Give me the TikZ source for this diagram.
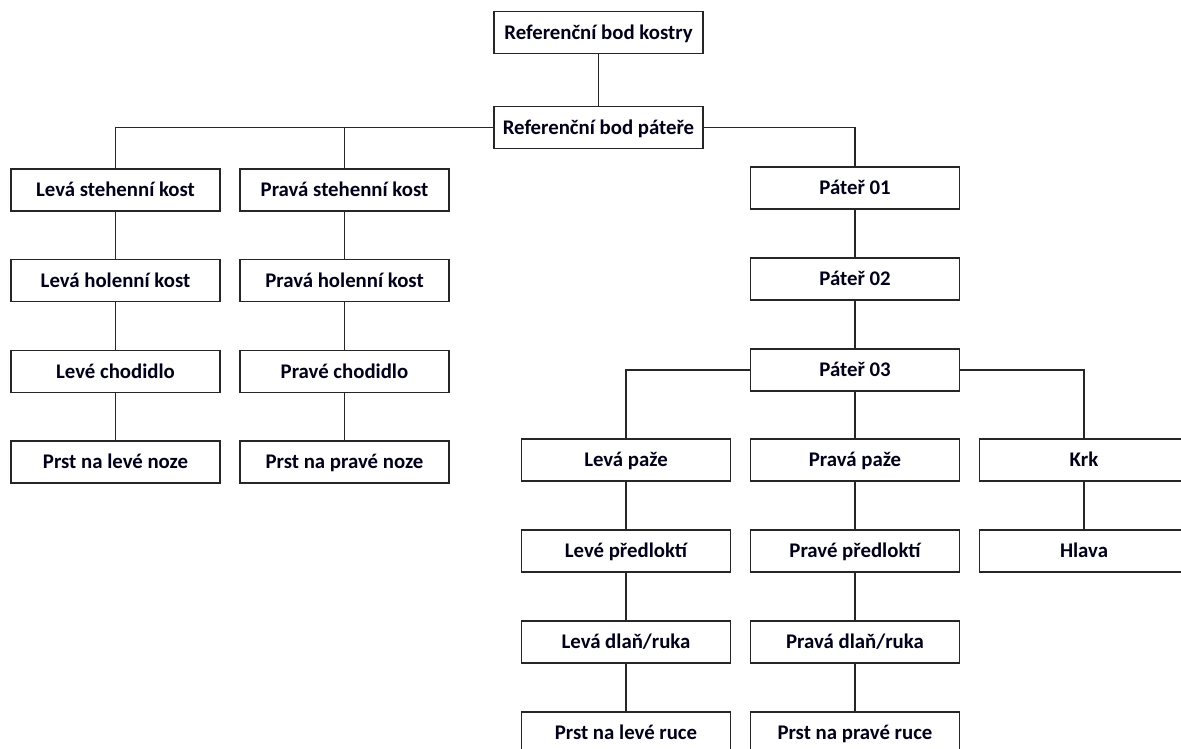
\documentclass[tikz,border=0pt]{standalone}
\usepackage{fontspec}
\setmainfont{Carlito}
\begin{document}
\begin{tikzpicture}[x=1pt,y=-1pt,
  bone/.style={draw=black!85,line width=1.6pt,fill=white,minimum width=209pt,minimum height=42pt,
    inner sep=0pt,text height=13.4pt,text depth=0pt,text=black!90!blue,font=\fontsize{20.8}{24}\selectfont\bfseries},
  link/.style={draw=black!85,line width=1.6pt}]
\useasboundingbox (0,0) rectangle (1181,749);
\clip (0,0) rectangle (1181,749);
% nodes
\node[bone] (root) at (598.5,32.5) {Referenční bod kostry};
\node[bone] (sref) at (598.5,127.5) {Referenční bod páteře};
\node[bone] (ls) at (115.5,190) {Levá stehenní kost};
\node[bone] (rs) at (344.5,190) {Pravá stehenní kost};
\node[bone] (lh) at (115.5,280.5) {Levá holenní kost};
\node[bone] (rh) at (344.5,280.5) {Pravá holenní kost};
\node[bone] (lc) at (115.5,371.5) {Levé chodidlo};
\node[bone] (rc) at (344.5,371.5) {Pravé chodidlo};
\node[bone] (lp) at (115.5,462) {Prst na levé noze};
\node[bone] (rp) at (344.5,462) {Prst na pravé noze};
\node[bone] (p1) at (855,188) {Páteř 01};
\node[bone] (p2) at (855,279) {Páteř 02};
\node[bone] (p3) at (855,370) {Páteř 03};
\node[bone] (la) at (626,460) {Levá paže};
\node[bone] (ra) at (855,460) {Pravá paže};
\node[bone] (krk) at (1084,460) {Krk};
\node[bone] (lf) at (626,551) {Levé předloktí};
\node[bone] (rf) at (855,551) {Pravé předloktí};
\node[bone] (hl) at (1084,551) {Hlava};
\node[bone] (lhand) at (626,642) {Levá dlaň/ruka};
\node[bone] (rhand) at (855,642) {Pravá dlaň/ruka};
\node[bone] (lfin) at (626,733) {Prst na levé ruce};
\node[bone] (rfin) at (855,733) {Prst na pravé ruce};
% connectors
\draw[link] (root.south) -- (sref.north);
\draw[link] (sref.west) -| (ls.north);
\draw[link] (rs.north) |- (sref.west);
\draw[link] (sref.east) -| (p1.north);
\draw[link] (ls.south) -- (lh.north);
\draw[link] (lh.south) -- (lc.north);
\draw[link] (lc.south) -- (lp.north);
\draw[link] (rs.south) -- (rh.north);
\draw[link] (rh.south) -- (rc.north);
\draw[link] (rc.south) -- (rp.north);
\draw[link] (p1.south) -- (p2.north);
\draw[link] (p2.south) -- (p3.north);
\draw[link] (p3.west) -| (la.north);
\draw[link] (p3.south) -- (ra.north);
\draw[link] (p3.east) -| (krk.north);
\draw[link] (la.south) -- (lf.north);
\draw[link] (lf.south) -- (lhand.north);
\draw[link] (lhand.south) -- (lfin.north);
\draw[link] (ra.south) -- (rf.north);
\draw[link] (rf.south) -- (rhand.north);
\draw[link] (rhand.south) -- (rfin.north);
\draw[link] (krk.south) -- (hl.north);
\end{tikzpicture}
\end{document}
